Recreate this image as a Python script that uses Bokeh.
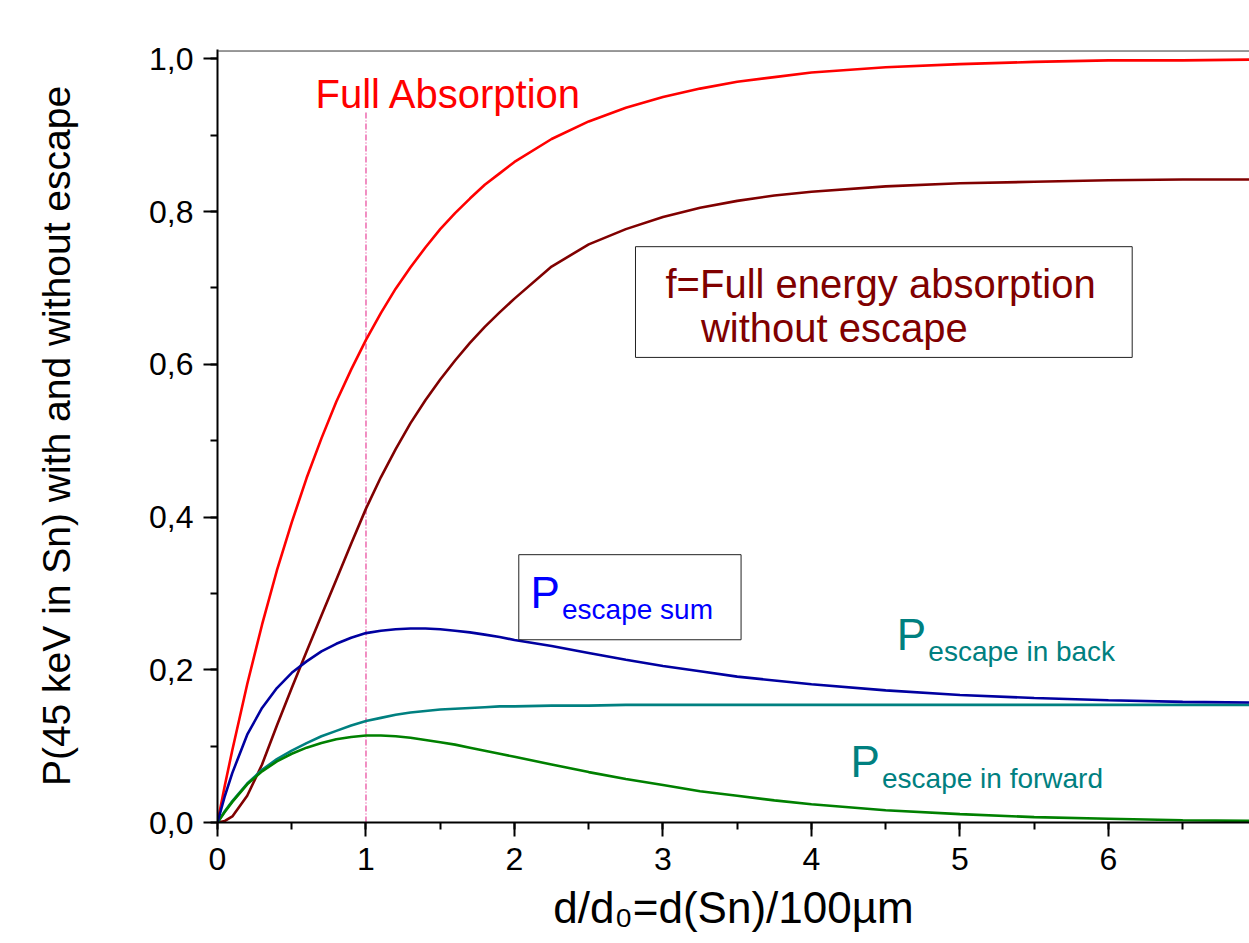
from bokeh.plotting import figure
from bokeh.models import Range1d, SingleIntervalTicker, CustomJSTickFormatter, Label, BoxAnnotation, Span
from bokeh.embed import file_html
from bokeh.resources import INLINE

# ---- data ----
x = [0, 0.05, 0.1, 0.2, 0.3, 0.4, 0.5, 0.6, 0.7, 0.8, 0.9, 1.0, 1.1, 1.2, 1.3, 1.4,
     1.5, 1.6, 1.7, 1.8, 1.9, 2.0, 2.25, 2.5, 2.75, 3.0, 3.25, 3.5, 3.75, 4.0,
     4.5, 5.0, 5.5, 6.0, 6.5, 7.0]
full_absorption = [0, 0.049, 0.095, 0.181, 0.259, 0.330, 0.393, 0.451, 0.503, 0.551,
                   0.593, 0.632, 0.667, 0.699, 0.727, 0.753, 0.777, 0.798, 0.817,
                   0.835, 0.850, 0.865, 0.895, 0.918, 0.936, 0.950, 0.961, 0.970,
                   0.976, 0.982, 0.989, 0.993, 0.996, 0.998, 0.998, 0.999]
f_without_escape = [0, 0.002, 0.008, 0.035, 0.076, 0.127, 0.176, 0.224, 0.271, 0.318,
                    0.365, 0.411, 0.452, 0.489, 0.523, 0.553, 0.580, 0.605, 0.628,
                    0.649, 0.668, 0.686, 0.728, 0.757, 0.777, 0.793, 0.805, 0.814,
                    0.821, 0.826, 0.833, 0.837, 0.839, 0.841, 0.842, 0.842]
p_escape_sum = [0, 0.035, 0.065, 0.115, 0.150, 0.176, 0.196, 0.211, 0.224, 0.234,
                0.242, 0.248, 0.251, 0.253, 0.254, 0.254, 0.253, 0.251, 0.249,
                0.246, 0.243, 0.239, 0.231, 0.222, 0.213, 0.205, 0.198, 0.191,
                0.186, 0.181, 0.173, 0.167, 0.163, 0.160, 0.158, 0.157]
p_escape_back = [0, 0.015, 0.028, 0.051, 0.069, 0.083, 0.094, 0.104, 0.113, 0.120,
                 0.127, 0.133, 0.137, 0.141, 0.144, 0.146, 0.148, 0.149, 0.150,
                 0.151, 0.152, 0.152, 0.153, 0.153, 0.154, 0.154, 0.154, 0.154,
                 0.154, 0.154, 0.154, 0.154, 0.154, 0.154, 0.154, 0.154]
p_escape_forward = [0, 0.014, 0.027, 0.050, 0.067, 0.080, 0.090, 0.098, 0.104, 0.109,
                    0.112, 0.114, 0.114, 0.113, 0.111, 0.108, 0.105, 0.102, 0.098,
                    0.094, 0.090, 0.086, 0.076, 0.066, 0.057, 0.049, 0.041, 0.035,
                    0.029, 0.024, 0.016, 0.011, 0.007, 0.005, 0.003, 0.002]
marker_x = [1.0]
marker_bottom = [0.0]
marker_top = [0.93]

FONT = "Liberation Sans"

p = figure(width=1249, height=943, output_backend="svg", toolbar_location=None,
           x_range=Range1d(0, 6.95), y_range=Range1d(0, 1.0122),
           min_border_left=217, min_border_right=0, min_border_top=49,
           min_border_bottom=121)
p.background_fill_color = "white"
p.border_fill_color = "white"
p.outline_line_color = None
p.xgrid.visible = False
p.ygrid.visible = False

p.xaxis.ticker = SingleIntervalTicker(interval=1, num_minor_ticks=2)
p.yaxis.ticker = SingleIntervalTicker(interval=0.2, num_minor_ticks=2)
p.yaxis.formatter = CustomJSTickFormatter(code="return tick.toFixed(1).replace('.', ',');")

for ax in (p.xaxis[0], p.yaxis[0]):
    ax.axis_line_width = 2
    ax.axis_line_color = "black"
    ax.major_tick_line_width = 2
    ax.minor_tick_line_width = 2
    ax.major_tick_line_color = "black"
    ax.minor_tick_line_color = "black"
    ax.major_tick_out = 14
    ax.major_tick_in = 0
    ax.minor_tick_out = 7
    ax.minor_tick_in = 0
    ax.major_label_text_font = FONT
    ax.major_label_text_font_size = "32px"
    ax.major_label_text_color = "black"
    ax.axis_label_text_font = FONT
    ax.axis_label_text_font_style = "normal"
    ax.axis_label_text_color = "black"
p.xaxis.major_label_standoff = 11
p.yaxis.major_label_standoff = 10

p.xaxis.axis_label = "d/d\u2080=d(Sn)/100\u00b5m"
p.xaxis.axis_label_text_font_size = "44px"
p.xaxis.axis_label_standoff = 10
p.yaxis.axis_label = "P(45 keV in Sn) with and without escape"
p.yaxis.axis_label_text_font_size = "39px"
p.yaxis.axis_label_standoff = 68

# top frame line
p.add_layout(Span(location=1.0102, dimension="width", line_color="#333333", line_width=1))

# vertical marker at d/d0 = 1
p.segment(x0=marker_x, y0=marker_bottom, x1=marker_x, y1=marker_top,
          line_color="#E8449A", line_width=1.2, line_dash="6 2 1 2")

p.line(x, full_absorption, line_color="#FF0000", line_width=2.6)
p.line(x, f_without_escape, line_color="#800000", line_width=2.6)
p.line(x, p_escape_back, line_color="#008080", line_width=2.6)
p.line(x, p_escape_forward, line_color="#008000", line_width=2.6)
p.line(x, p_escape_sum, line_color="#0000A0", line_width=2.6)

# boxes
p.add_layout(BoxAnnotation(left=2.815, right=6.16, bottom=0.609, top=0.754,
                           fill_alpha=0, line_color="#222222", line_alpha=1, line_width=1))
p.add_layout(BoxAnnotation(left=2.029, right=3.526, bottom=0.2393, top=0.3507,
                           fill_alpha=0, line_color="#222222", line_alpha=1, line_width=1))

DY = 0.019

def lab(xv, yv, text, size, color, xo=0):
    p.add_layout(Label(x=xv, y=yv + DY, text=text, text_font=FONT, text_font_size=size,
                       text_color=color, x_offset=xo, text_align="left",
                       text_baseline="alphabetic"))

lab(0.66, 0.9345, "Full Absorption", "40px", "#FF0000")
lab(3.017, 0.686, "f=Full energy absorption", "40px", "#800000")
lab(3.256, 0.6288, "without escape", "40px", "#800000")

lab(2.108, 0.2816, "P", "44px", "#0000FF")
lab(2.108, 0.26, "escape sum", "28px", "#0000FF", xo=31.5)
lab(4.575, 0.2271, "P", "44px", "#008080")
lab(4.575, 0.2053, "escape in back", "28px", "#008080", xo=31.5)
lab(4.263, 0.0612, "P", "44px", "#008080")
lab(4.263, 0.038, "escape in forward", "28px", "#008080", xo=31.5)

open("out.html", "w").write(file_html(p, INLINE))
